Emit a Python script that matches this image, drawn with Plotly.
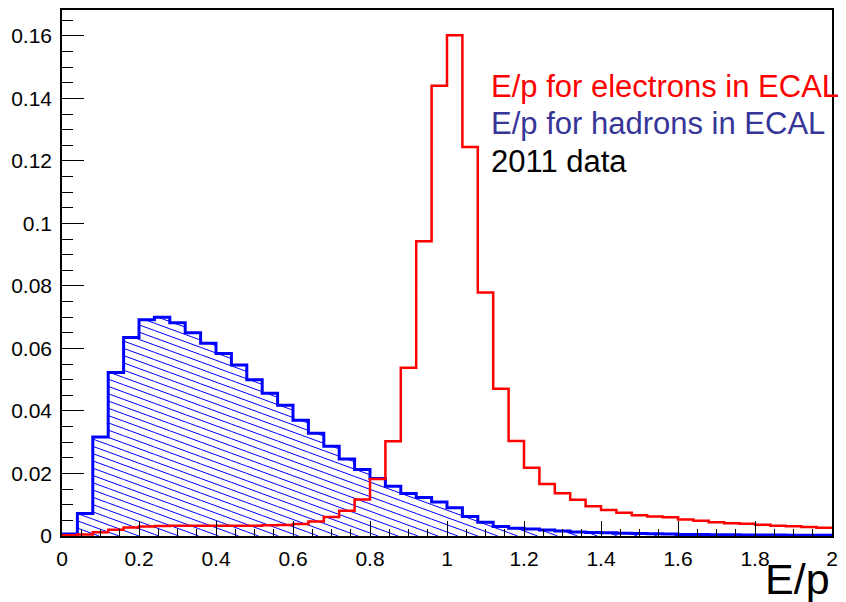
import numpy as np
import plotly.graph_objects as go

# ---------------- data ----------------
bin_edges = [round(0.04 * i, 2) for i in range(51)]

electrons = [0.0002, 0.0005, 0.0012, 0.0020, 0.0027, 0.0030, 0.0032, 0.0033, 0.0033, 0.0033,
             0.0033, 0.0033, 0.0033, 0.0034, 0.0035, 0.0038, 0.0046, 0.0061, 0.0081, 0.0117,
             0.0182, 0.0303, 0.0538, 0.0943, 0.1441, 0.1602, 0.1245, 0.0779, 0.0471, 0.0304,
             0.0218, 0.0166, 0.0137, 0.0116, 0.0095, 0.0083, 0.0074, 0.0066, 0.0062, 0.0060,
             0.0053, 0.0049, 0.0044, 0.0041, 0.0039, 0.0036, 0.0033, 0.0031, 0.0029, 0.0026]

hadrons = [0.0006, 0.0072, 0.0317, 0.0523, 0.0635, 0.0692, 0.0700, 0.0682, 0.0650, 0.0617,
           0.0584, 0.0547, 0.0500, 0.0457, 0.0418, 0.0370, 0.0329, 0.0287, 0.0246, 0.0213,
           0.0184, 0.0159, 0.0136, 0.0123, 0.0109, 0.0090, 0.0062, 0.0044, 0.0030, 0.0025,
           0.0022, 0.0019, 0.0016, 0.0013, 0.0011, 0.0010, 0.0009, 0.0008, 0.0007, 0.0006,
           0.0005, 0.0005, 0.0004, 0.0004, 0.0003, 0.0003, 0.0003, 0.0002, 0.0002, 0.0002]

x_tickvals = [0, 0.2, 0.4, 0.6, 0.8, 1.0, 1.2, 1.4, 1.6, 1.8, 2.0]
x_ticktext = ["0", "0.2", "0.4", "0.6", "0.8", "1", "1.2", "1.4", "1.6", "1.8", "2"]
y_tickvals = [0, 0.02, 0.04, 0.06, 0.08, 0.10, 0.12, 0.14, 0.16]
y_ticktext = ["0", "0.02", "0.04", "0.06", "0.08", "0.1", "0.12", "0.14", "0.16"]

legend_lines = ["E/p for electrons in ECAL", "E/p for hadrons in ECAL", "2011 data"]
x_title = "E/p"

# ---------------- style ----------------
RED = "#ff0000"
BLUE = "#0000ff"
LEG_BLUE = "#363699"
FONT = "Liberation Sans, Arial, Helvetica, sans-serif"
X_RANGE = [0, 2]
Y_RANGE = [0, 0.1683]
HATCH_SLOPE = 0.045      # data-units of y per unit of x (downward)
HATCH_STEP = 0.00233     # vertical spacing in y data units
HATCH_PHASE = 0.0020


def step_xy(edges, vals):
    xs = [edges[0]] + list(edges[:-1]) + [edges[-1]]
    ys = [0.0] + list(vals) + [vals[-1]]
    return xs, ys


def hatch_xy(edges, vals):
    hx, hy = [], []
    top = max(vals) + HATCH_SLOPE * edges[-1] + HATCH_STEP
    c = HATCH_PHASE
    while c < top:
        for k, h in enumerate(vals):
            x0, x1 = edges[k], edges[k + 1]
            lo = max(x0, (c - h) / HATCH_SLOPE)
            hi = min(x1, c / HATCH_SLOPE)
            if hi > lo:
                hx += [lo, hi, None]
                hy += [c - HATCH_SLOPE * lo, c - HATCH_SLOPE * hi, None]
        c += HATCH_STEP
    return hx, hy


fig = go.Figure()

hx, hy = hatch_xy(bin_edges, hadrons)
fig.add_trace(go.Scatter(x=hx, y=hy, mode="lines", line=dict(color=BLUE, width=1),
                         hoverinfo="skip", showlegend=False))

bx, by = step_xy(bin_edges, hadrons)
fig.add_trace(go.Scatter(x=bx, y=by, mode="lines", line=dict(color=BLUE, width=3, shape="hv"),
                         name="hadrons", showlegend=False))

rx, ry = step_xy(bin_edges, electrons)
fig.add_trace(go.Scatter(x=rx, y=ry, mode="lines", line=dict(color=RED, width=2.5, shape="hv"),
                         name="electrons", showlegend=False))

axis_common = dict(showgrid=False, zeroline=False, showline=True, linecolor="black",
                   linewidth=1.5, mirror=True, ticks="inside", tickcolor="black",
                   tickwidth=1, tickfont=dict(family=FONT, size=21, color="black"),
                   tickmode="array")

fig.update_xaxes(range=X_RANGE, tickvals=x_tickvals, ticktext=x_ticktext, ticklen=15,
                 minor=dict(tick0=0, dtick=0.05, ticks="inside", ticklen=7.5,
                            tickcolor="black", tickwidth=1),
                 ticklabelstandoff=3, **axis_common)
fig.update_yaxes(range=Y_RANGE, tickvals=y_tickvals, ticktext=y_ticktext, ticklen=22,
                 minor=dict(tick0=0, dtick=0.005, ticks="inside", ticklen=11,
                            tickcolor="black", tickwidth=1),
                 ticklabelstandoff=4, **axis_common)

leg_colors = [RED, LEG_BLUE, "black"]
leg_y = [0.855, 0.784, 0.712]
for txt, col, yy in zip(legend_lines, leg_colors, leg_y):
    fig.add_annotation(text=txt, xref="paper", yref="paper", x=0.554, y=yy,
                       xanchor="left", yanchor="middle", showarrow=False,
                       font=dict(family=FONT, size=31, color=col))

fig.add_annotation(text=x_title, xref="paper", yref="paper", x=1.0, y=0, xanchor="right",
                   yanchor="top", yshift=-17, showarrow=False,
                   font=dict(family=FONT, size=43, color="black"))

fig.update_layout(width=846, height=602, margin=dict(l=62, r=8, t=8, b=66),
                  paper_bgcolor="white", plot_bgcolor="white", showlegend=False)

fig.write_html("out.html")
